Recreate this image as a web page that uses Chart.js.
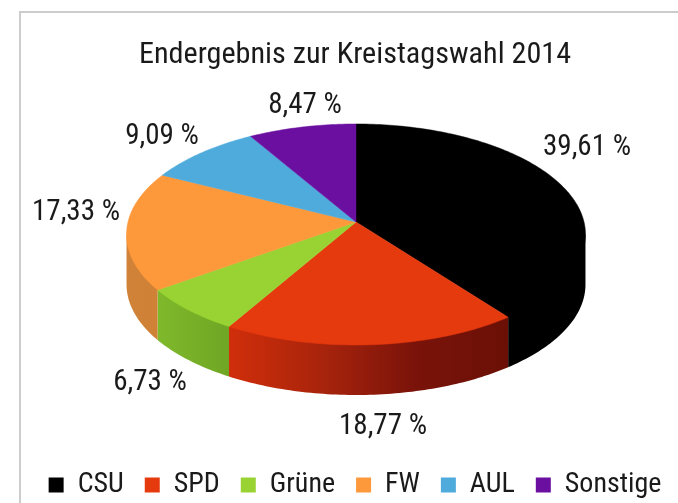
<!DOCTYPE html>
<html>
<head>
<meta charset="utf-8">
<title>Kreistagswahl 2014</title>
<script src="https://cdn.jsdelivr.net/npm/chart.js@4"></script>
<style>
  html, body { margin: 0; padding: 0; background: #fff; overflow: hidden; }
  #frame { position: absolute; left: 19px; top: 11px; right: 0; bottom: 0; border-top: 2px solid #ccc; border-left: 2px solid #ccc; }
  #chart1 { position: absolute; left: 0; top: 0; }
</style>
</head>
<body>
<div id="frame"></div>
<canvas id="chart1" width="678" height="503"></canvas>
<script>
var parties = ["CSU", "SPD", "Grüne", "FW", "AUL", "Sonstige"];
var shares = [39.61, 18.77, 6.73, 17.33, 9.09, 8.47];
var topColors = ["#000000", "#e5390e", "#99d233", "#fd983b", "#4fabdb", "#6a0f9f"];

// side wall colours, left to right across each slice
var sideColors = [
  ["#000000", "#000000"],
  ["#d02e0a", "#a8240c", "#7a130a", "#6b1006"],
  ["#7fb92b", "#6fa624"],
  ["#d08338", "#cf8136"],
  ["#3d86ad", "#3d86ad"],
  ["#52097a", "#52097a"],
];

// centre of each percent label
var labelX = [587, 383, 150, 76, 162, 305];
var labelY = [148, 427, 383, 213, 137, 106];

// the disc is drawn in perspective, so the apex sits above the middle of the ellipse
var apexX = 356;
var apexY = 222;
var spreadX = 228;
var spreadY = 109.1;
var tilt = 0.113;
var depth = 50;

var fontFamily = "'Roboto Condensed', Roboto, sans-serif";

function project(angle) {
  var u = Math.cos(angle);
  var v = Math.sin(angle);
  var w = 1 - tilt * v;
  return { x: apexX + (spreadX * u) / w, y: apexY + (spreadY * v) / w };
}

function rimPoints(start, end) {
  var pts = [];
  var steps = Math.max(4, Math.ceil((end - start) * 60));
  for (var i = 0; i <= steps; i++) {
    pts.push(project(start + ((end - start) * i) / steps));
  }
  return pts;
}

var tiltedPie = {
  id: "tiltedPie",
  beforeDatasetDraw: function (chart, args) {
    var ctx = chart.ctx;
    var arcs = args.meta.data;

    // only the rim between the two widest points of the ellipse shows a wall
    var frontStart = Math.asin(tilt);
    var frontEnd = Math.PI - frontStart;

    arcs.forEach(function (arc, i) {
      var start = Math.max(arc.startAngle, frontStart);
      var end = Math.min(arc.endAngle, frontEnd);
      if (end <= start) return;
      var pts = rimPoints(start, end);
      var minX = Math.min.apply(null, pts.map(function (p) { return p.x; }));
      var maxX = Math.max.apply(null, pts.map(function (p) { return p.x; }));
      var grad = ctx.createLinearGradient(minX, 0, maxX, 0);
      sideColors[i].forEach(function (c, j) {
        grad.addColorStop(j / (sideColors[i].length - 1), c);
      });
      ctx.beginPath();
      // upper edge runs a little inside the rim so no light seam shows under the top face
      ctx.moveTo(pts[0].x, pts[0].y);
      pts.forEach(function (p) {
        ctx.lineTo(apexX + (p.x - apexX) * 0.98, apexY + (p.y - apexY) * 0.98);
      });
      pts.slice().reverse().forEach(function (p, j) {
        if (j === 0) ctx.lineTo(p.x, p.y);
        ctx.lineTo(p.x, p.y + depth);
      });
      ctx.closePath();
      ctx.fillStyle = grad;
      ctx.fill();
    });

    arcs.forEach(function (arc) {
      ctx.beginPath();
      ctx.moveTo(apexX, apexY);
      rimPoints(arc.startAngle, arc.endAngle).forEach(function (p) {
        ctx.lineTo(p.x, p.y);
      });
      ctx.closePath();
      ctx.fillStyle = arc.options.backgroundColor;
      ctx.strokeStyle = arc.options.backgroundColor;
      ctx.lineWidth = 0.5;
      ctx.fill();
      ctx.stroke();
    });

    ctx.font = "29px " + fontFamily;
    ctx.fillStyle = "#1a1a1a";
    ctx.textAlign = "center";
    ctx.textBaseline = "middle";
    shares.forEach(function (v, i) {
      ctx.fillText(v.toFixed(2).replace(".", ",") + " %", labelX[i], labelY[i]);
    });

    return false; // flat circle from the library is not wanted
  },
};

var chart = new Chart("chart1", {
  type: "pie",
  plugins: [tiltedPie],
  data: {
    labels: parties,
    datasets: [
      {
        data: shares,
        backgroundColor: topColors,
        borderWidth: 0,
      },
    ],
  },
  options: {
    responsive: false,
    animation: false,
    layout: {
      // negative right side: the row needs the full width but sits off centre
      padding: { left: 16, right: -16, top: 0, bottom: -6 },
    },
    plugins: {
      tooltip: { enabled: false },
      title: {
        display: true,
        text: "Endergebnis zur Kreistagswahl 2014",
        color: "#1a1a1a",
        font: { family: fontFamily, size: 30.2, weight: "normal" },
        padding: { top: 37, bottom: 10 },
      },
      legend: {
        display: true,
        position: "bottom",
        labels: {
          color: "#1a1a1a",
          boxWidth: 15,
          boxHeight: 15,
          padding: 21,
          font: { family: fontFamily, size: 28 },
        },
      },
    },
  },
});
</script>
</body>
</html>
